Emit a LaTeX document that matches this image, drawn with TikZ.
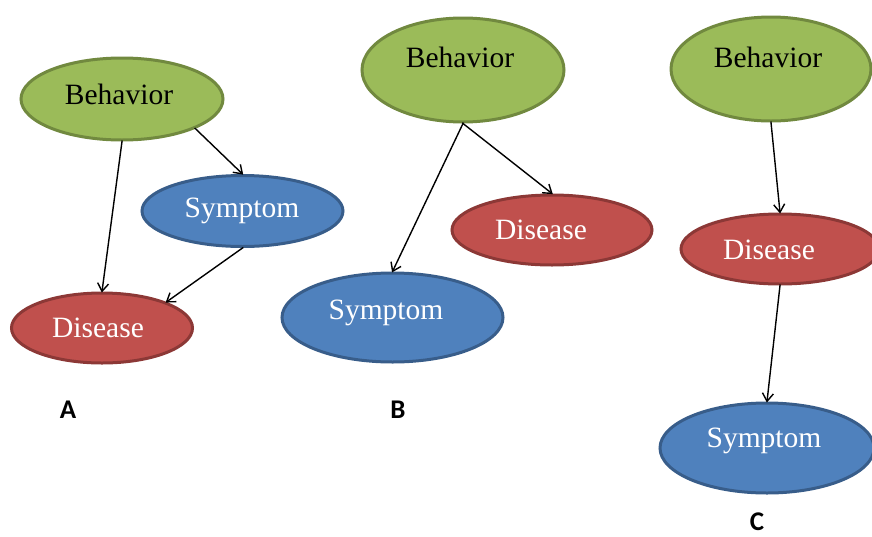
\documentclass[tikz,border=0pt]{standalone}
\usepackage{fontspec}
\setmainfont{Liberation Serif}
\newfontfamily\labfont{Carlito}
\usetikzlibrary{shapes.geometric,arrows.meta}
\definecolor{gfill}{HTML}{9BBB59}
\definecolor{gdraw}{HTML}{71893F}
\definecolor{bfill}{HTML}{4F81BD}
\definecolor{bdraw}{HTML}{385D8A}
\definecolor{rfill}{HTML}{C0504D}
\definecolor{rdraw}{HTML}{8C3836}
\tikzset{
  ell/.style={ellipse, inner sep=0pt, line width=3pt},
  beh/.style={ell, fill=gfill, draw=gdraw},
  sym/.style={ell, fill=bfill, draw=bdraw},
  dis/.style={ell, fill=rfill, draw=rdraw},
  txt/.style={font=\fontsize{29.5}{34}\selectfont, inner sep=0pt},
  wtxt/.style={txt, text=white},
  lab/.style={font=\labfont\bfseries\fontsize{27}{30}\selectfont, inner sep=0pt},
  arr/.style={-{Straight Barb[length=8pt,width=11pt]}, line width=1.4pt, shorten <=-1pt, shorten >=-1pt}
}
\begin{document}
\begin{tikzpicture}[x=1pt,y=-1pt]
\useasboundingbox (0,0) rectangle (872,536);
% A
\node[beh, minimum width=202pt, minimum height=82pt] (Ab) at (122,99) {};
\node[txt] (Abt) at (119,94) {Behavior};
\node[sym, minimum width=201pt, minimum height=71pt] (As) at (242.5,211) {};
\node[wtxt] (Ast) at (242,211) {Symptom};
\node[dis, minimum width=181pt, minimum height=70pt] (Ad) at (102,328) {};
\node[wtxt] (Adt) at (98,328) {Disease};
\draw[arr] (Ab.south) -- (Ad.north);
\draw[arr] (Ab.-22) -- (As.north);
\draw[arr] (As.south) -- (Ad.22);
\node[lab] (LA) at (68,410) {A};
% B
\node[beh, minimum width=202pt, minimum height=104pt] (Bb) at (463,70) {};
\node[txt] (Bbt) at (460,57) {Behavior};
\node[dis, minimum width=200pt, minimum height=70pt] (Bd) at (552,230) {};
\node[wtxt] (Bdt) at (541,230) {Disease};
\node[sym, minimum width=221pt, minimum height=89pt] (Bs) at (392.5,317.5) {};
\node[wtxt] (Bst) at (386,313) {Symptom};
\draw[arr] (Bb.south) -- (Bs.north);
\draw[arr] (Bb.south) -- (Bd.north);
\node[lab] (LB) at (398,410) {B};
% C
\node[beh, minimum width=200pt, minimum height=104pt] (Cb) at (771,69) {};
\node[txt] (Cbt) at (768,57) {Behavior};
\node[dis, minimum width=198pt, minimum height=70pt] (Cd) at (780,249) {};
\node[wtxt] (Cdt) at (769,250) {Disease};
\node[sym, minimum width=214pt, minimum height=90pt] (Cs) at (767,448) {};
\node[wtxt] (Cst) at (764,441) {Symptom};
\draw[arr] (Cb.south) -- (Cd.north);
\draw[arr] (Cd.south) -- (Cs.north);
\node[lab] (LC) at (757,522) {C};
\end{tikzpicture}
\end{document}
